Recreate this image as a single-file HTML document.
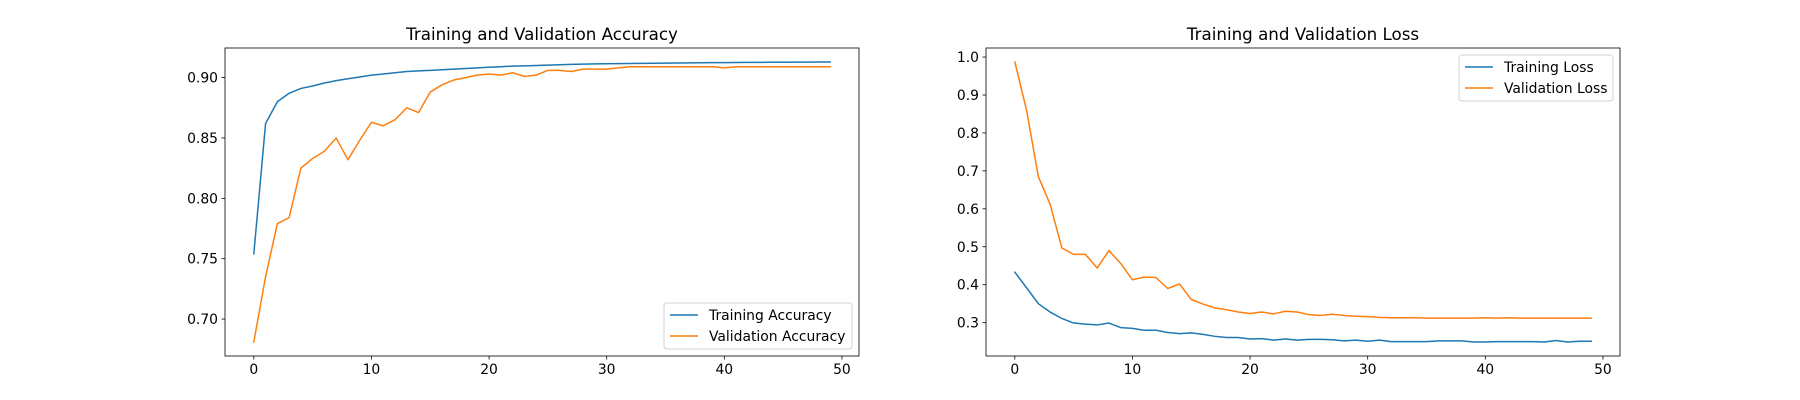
<!DOCTYPE html>
<html><head><meta charset="utf-8"><style>
html,body{margin:0;padding:0;background:#fff;}
svg{display:block;font-family:"DejaVu Sans","Liberation Sans",sans-serif;}
</style></head><body>
<svg id="fig" width="1800" height="400" viewBox="0 0 1800 400"></svg>
<script>
const epochs = Array.from({length:50},(_,i)=>i);
const trainAcc = [0.754,0.862,0.880,0.887,0.891,0.893,0.8955,0.8975,0.899,0.9005,0.902,0.903,0.904,0.905,0.9055,0.906,0.9065,0.907,0.9075,0.908,0.9085,0.909,0.9095,0.9097,0.910,0.9103,0.9106,0.9109,0.9111,0.9113,0.9115,0.9116,0.9117,0.9118,0.9119,0.912,0.9121,0.9122,0.9123,0.9124,0.9124,0.9125,0.9126,0.9126,0.9127,0.9127,0.9128,0.9128,0.9129,0.9129];
const valAcc = [0.681,0.735,0.779,0.784,0.825,0.833,0.839,0.850,0.832,0.848,0.863,0.860,0.865,0.875,0.871,0.888,0.894,0.898,0.900,0.902,0.903,0.902,0.904,0.901,0.902,0.906,0.906,0.905,0.907,0.907,0.907,0.908,0.909,0.909,0.909,0.909,0.909,0.909,0.909,0.909,0.908,0.909,0.909,0.909,0.909,0.909,0.909,0.909,0.909,0.909];
const trainLoss = [0.433,0.392,0.350,0.328,0.311,0.299,0.296,0.294,0.299,0.287,0.285,0.280,0.280,0.274,0.271,0.273,0.269,0.264,0.261,0.261,0.257,0.258,0.254,0.257,0.254,0.256,0.256,0.255,0.252,0.254,0.251,0.254,0.250,0.250,0.250,0.250,0.252,0.252,0.252,0.249,0.249,0.250,0.250,0.250,0.250,0.249,0.253,0.249,0.251,0.251];
const valLoss = [0.987,0.860,0.685,0.612,0.497,0.480,0.480,0.444,0.490,0.456,0.413,0.420,0.419,0.390,0.402,0.361,0.349,0.339,0.334,0.328,0.324,0.328,0.323,0.330,0.328,0.321,0.319,0.322,0.319,0.317,0.316,0.314,0.313,0.313,0.313,0.312,0.312,0.312,0.312,0.312,0.313,0.312,0.313,0.312,0.312,0.312,0.312,0.312,0.312,0.312];
const xTicks = [0,10,20,30,40,50];
const accTicks = [0.70,0.75,0.80,0.85,0.90];
const lossTicks = [0.3,0.4,0.5,0.6,0.7,0.8,0.9,1.0];

const NS='http://www.w3.org/2000/svg';
const svg=document.getElementById('fig');
function mk(tag,attrs,parent){const e=document.createElementNS(NS,tag);for(const k in attrs)e.setAttribute(k,attrs[k]);(parent||svg).appendChild(e);return e;}

function panel(prefix,L,R,T,B,title,series,yTicks,yDec,legendPos){
  const g=mk('g',{});
  
  
  let ymin=Infinity,ymax=-Infinity;
  series.forEach(s=>s.data.forEach(v=>{ymin=Math.min(ymin,v);ymax=Math.max(ymax,v);}));
  const m=(ymax-ymin)*0.05; ymin-=m; ymax+=m;
  const xmin=-2.45,xmax=51.45;
  const X=v=>L+(v-xmin)/(xmax-xmin)*(R-L);
  const Y=v=>B-(v-ymin)/(ymax-ymin)*(B-T);
  series.forEach(s=>{
    const p=mk('polyline',{points:s.data.map((v,i)=>X(epochs[i]).toFixed(2)+','+Y(v).toFixed(2)).join(' '),fill:'none',stroke:s.color,'stroke-width':1.5,'stroke-linejoin':'round','stroke-linecap':'square'},g);
    
    
  });
  const frame=mk('rect',{x:L,y:T,width:R-L,height:B-T,fill:'none',stroke:'#000','stroke-width':0.8},g);
  
  
  xTicks.forEach(t=>{
    const x=X(t);
    mk('line',{x1:x,x2:x,y1:B,y2:B+3.5,stroke:'#000','stroke-width':0.8},g);
    const tx=mk('text',{x:x,y:B+18,'text-anchor':'middle','font-size':13.9,fill:'#000'},g);
    tx.textContent=t;
    
    
  });
  yTicks.forEach(t=>{
    const y=Y(t);
    mk('line',{x1:L-3.5,x2:L,y1:y,y2:y,stroke:'#000','stroke-width':0.8},g);
    const tx=mk('text',{x:L-7,y:y+5,'text-anchor':'end','font-size':13.9,fill:'#000'},g);
    tx.textContent=t.toFixed(yDec);
    
    
  });
  const ti=mk('text',{x:(L+R)/2,y:T-8,'text-anchor':'middle','font-size':16.7,fill:'#000'},g);
  ti.textContent=title;
  
  
  const lw=legendPos.w,lh=46;
  const lx=R-7-lw, ly=legendPos.top?T+7:B-7-lh;
  const lg=mk('g',{},g);
  
  
  mk('rect',{x:lx,y:ly,width:lw,height:lh,rx:3,fill:'#fff','fill-opacity':0.8,stroke:'#d0d0d0','stroke-width':1},lg);
  series.forEach((s,i)=>{
    const yy=ly+12+i*21;
    mk('line',{x1:lx+6,x2:lx+34,y1:yy,y2:yy,stroke:s.color,'stroke-width':1.5},lg);
    const t=mk('text',{x:lx+45,y:yy+5,'font-size':13.9,fill:'#000'},lg);
    t.textContent=s.label;
    
    
  });
}
panel('accuracy',225,859,48,356,'Training and Validation Accuracy',
  [{name:'training-accuracy-line',label:'Training Accuracy',data:trainAcc,color:'#1f77b4'},
   {name:'validation-accuracy-line',label:'Validation Accuracy',data:valAcc,color:'#ff7f0e'}],
  accTicks,2,{w:188,top:false});
panel('loss',986,1620,48,356,'Training and Validation Loss',
  [{name:'training-loss-line',label:'Training Loss',data:trainLoss,color:'#1f77b4'},
   {name:'validation-loss-line',label:'Validation Loss',data:valLoss,color:'#ff7f0e'}],
  lossTicks,1,{w:154,top:true});
</script>
</body></html>
